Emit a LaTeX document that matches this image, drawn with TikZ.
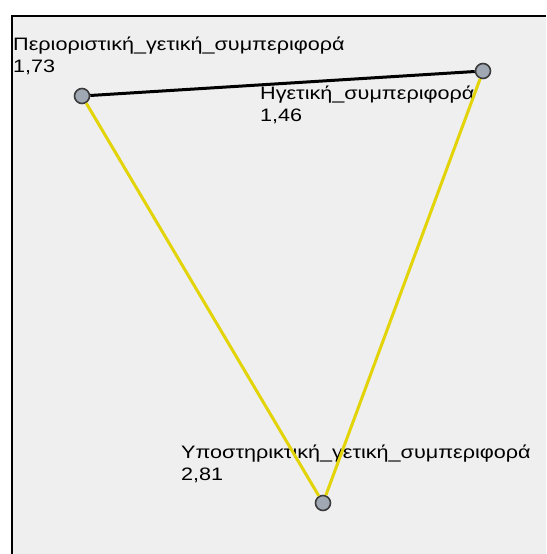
\documentclass[tikz,border=0pt]{standalone}
\usepackage{fontspec}
\setmainfont{Liberation Sans}[FakeStretch=1.2]
\usepackage{tikz}
\usetikzlibrary{positioning}

\definecolor{panelgray}{RGB}{239,239,239}
\definecolor{dotfill}{RGB}{160,168,180}
\definecolor{dotedge}{RGB}{60,60,60}
\definecolor{linkyellow}{RGB}{226,212,8}

\begin{document}
\begin{tikzpicture}[
  x=1pt, y=-1pt,
  vertex/.style={circle, draw=dotedge, fill=dotfill, line width=1.6pt, minimum size=15pt, inner sep=0pt},
  lbl/.style={anchor=north west, align=left, inner sep=0pt, font=\fontsize{18}{22}\selectfont},
  strong/.style={line width=3pt, black},
  weak/.style={line width=3pt, linkyellow}
]
\useasboundingbox (0,0) rectangle (546,554);
% panel
\fill[panelgray] (12,16) rectangle (546,554);
\draw[line width=1.5pt] (546,16) -- (12,16) -- (12,554);

\node[vertex] (restr) at (82,96) {};
\node[vertex] (lead) at (483,71) {};
\node[vertex] (supp) at (323,503) {};

\node[lbl] (restrlbl) at (13,37) {Περιοριστική\_γετική\_συμπεριφορά\\1,73};
\node[lbl] (leadlbl) at (260,86) {Ηγετική\_συμπεριφορά\\1,46};
\node[lbl] (supplbl) at (181,445) {Υποστηρικτική\_γετική\_συμπεριφορά\\2,81};

\draw[strong] (restr) -- (lead);
\draw[weak] (restr) -- (supp);
\draw[weak] (lead) -- (supp);

\end{tikzpicture}
\end{document}
